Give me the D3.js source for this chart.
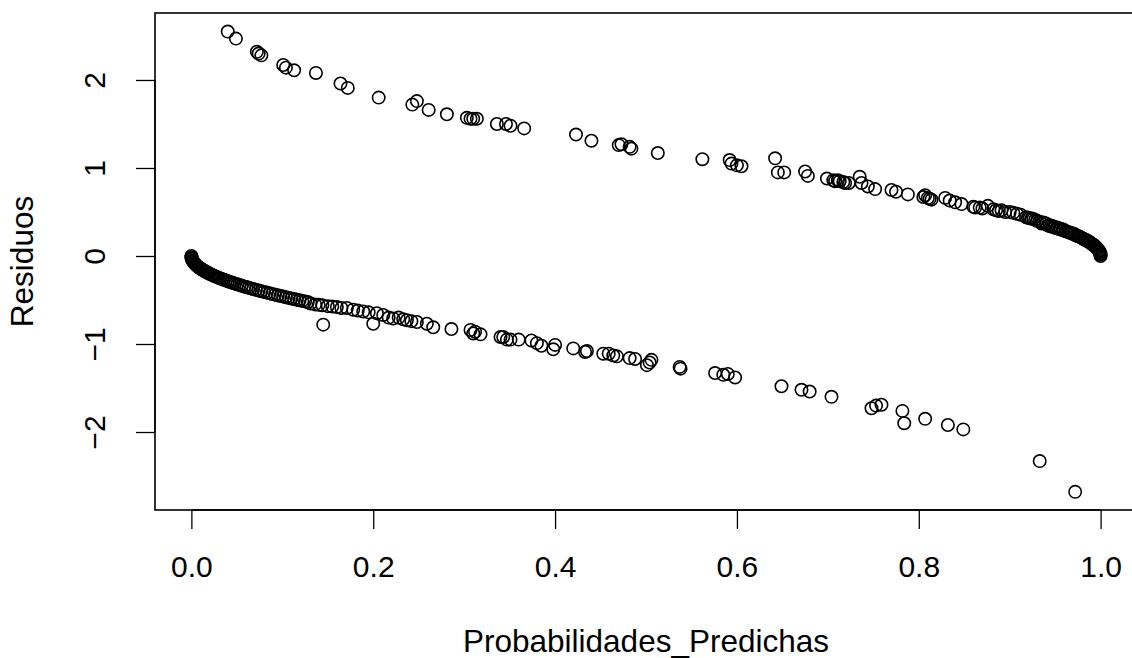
<!DOCTYPE html>
<html>
<head>
<meta charset="utf-8">
<script src="https://cdn.jsdelivr.net/npm/d3@7"></script>
<style>
  html, body { margin: 0; padding: 0; background: #fff; }
  svg { display: block; }
  text { font-family: "Liberation Sans", Arial, Helvetica, sans-serif; fill: #000; }
</style>
</head>
<body>
<svg id="chart" width="1132" height="658"></svg>
<script>
// ---- Data ----
const posProb = [
  0.040, 0.049, 0.072, 0.074, 0.077, 0.101, 0.104, 0.113, 0.137, 0.164,
  0.172, 0.206, 0.243, 0.248, 0.261, 0.281, 0.303, 0.307, 0.310, 0.314,
  0.336, 0.346, 0.351, 0.366, 0.423, 0.440, 0.470, 0.473, 0.482, 0.484,
  0.513, 0.562, 0.592, 0.594, 0.600, 0.605, 0.642, 0.645, 0.652, 0.675,
  0.678, 0.699, 0.706, 0.708, 0.711, 0.713, 0.717, 0.719, 0.723, 0.735,
  0.737, 0.744, 0.752, 0.770, 0.775, 0.788, 0.805, 0.807, 0.810, 0.812,
  0.814, 0.829, 0.834, 0.840, 0.847, 0.860, 0.862, 0.867, 0.870, 0.876,
  0.882, 0.885, 0.888, 0.891, 0.895, 0.900, 0.904, 0.908, 0.912, 0.918,
  0.922, 0.926, 0.930, 0.933, 0.937, 0.940, 0.944, 0.947, 0.950, 0.953,
  0.956, 0.959, 0.962, 0.965, 0.968, 0.971, 0.974, 0.977, 0.980, 0.982,
  0.984, 0.986, 0.988, 0.990, 0.992, 0.993, 0.994, 0.995, 0.996, 0.997,
  0.998, 0.9985, 0.999, 0.9995, 0.9998, 0.9999, 1.000,
  0.991, 0.989, 0.987, 0.985, 0.983, 0.981, 0.9785, 0.9755, 0.9725, 0.9695,
  0.966, 0.9625, 0.9585, 0.9545, 0.9515, 0.9485, 0.9455, 0.942, 0.935, 0.928,
  0.924, 0.920
];
const posResid = [
  2.55, 2.47, 2.32, 2.30, 2.28, 2.17, 2.14, 2.11, 2.08, 1.96,
  1.91, 1.80, 1.72, 1.76, 1.66, 1.61, 1.57, 1.56, 1.56, 1.56,
  1.50, 1.50, 1.48, 1.45, 1.38, 1.31, 1.26, 1.27, 1.24, 1.22,
  1.17, 1.10, 1.09, 1.05, 1.03, 1.02, 1.11, 0.95, 0.95, 0.96,
  0.91, 0.88, 0.86, 0.85, 0.86, 0.85, 0.84, 0.83, 0.83, 0.90,
  0.83, 0.79, 0.76, 0.75, 0.73, 0.70, 0.67, 0.69, 0.66, 0.65,
  0.64, 0.66, 0.63, 0.61, 0.59, 0.56, 0.55, 0.55, 0.54, 0.57,
  0.53, 0.52, 0.51, 0.52, 0.50, 0.50, 0.49, 0.48, 0.47, 0.44,
  0.43, 0.42, 0.40, 0.39, 0.38, 0.37, 0.35, 0.34, 0.33, 0.32,
  0.31, 0.30, 0.28, 0.27, 0.26, 0.25, 0.23, 0.22, 0.20, 0.19,
  0.18, 0.17, 0.155, 0.14, 0.127, 0.118, 0.11, 0.10, 0.089, 0.077,
  0.063, 0.055, 0.045, 0.032, 0.020, 0.014, 0.000,
  0.134, 0.149, 0.162, 0.174, 0.185, 0.196, 0.209, 0.223, 0.236, 0.249,
  0.263, 0.277, 0.291, 0.305, 0.315, 0.325, 0.335, 0.345, 0.370, 0.410,
  0.425, 0.435
];
const negProb = [
  0.0001, 0.0002, 0.0005, 0.001, 0.0015, 0.002, 0.003, 0.004, 0.005, 0.006,
  0.007, 0.008, 0.010, 0.012, 0.014, 0.016, 0.018, 0.020, 0.023, 0.026,
  0.029, 0.032, 0.036, 0.040, 0.044, 0.048, 0.053, 0.058, 0.063, 0.068,
  0.074, 0.080, 0.086, 0.092, 0.098, 0.104, 0.110, 0.116, 0.122, 0.128,
  0.131, 0.136, 0.140, 0.144, 0.145, 0.150, 0.155, 0.160, 0.165, 0.171,
  0.178, 0.183, 0.189, 0.195, 0.200, 0.204, 0.211, 0.217, 0.222, 0.228,
  0.233, 0.237, 0.242, 0.248, 0.259, 0.266, 0.286, 0.307, 0.310, 0.312,
  0.318, 0.340, 0.343, 0.347, 0.351, 0.360, 0.374, 0.380, 0.385, 0.398,
  0.400, 0.420, 0.433, 0.435, 0.453, 0.459, 0.464, 0.468, 0.482, 0.488,
  0.501, 0.504, 0.506, 0.537, 0.538, 0.576, 0.585, 0.590, 0.598, 0.649,
  0.671, 0.680, 0.704, 0.748, 0.753, 0.759, 0.782, 0.784, 0.807, 0.832,
  0.849, 0.933, 0.972,
  0.000, 0.009, 0.011, 0.013, 0.015, 0.017, 0.019, 0.0215, 0.0245, 0.0275,
  0.0305, 0.034, 0.038, 0.042, 0.046, 0.0505, 0.0555, 0.0605, 0.0655, 0.071,
  0.077, 0.083, 0.089, 0.095, 0.101, 0.107, 0.113, 0.119, 0.125
];
const negResid = [
  -0.014, -0.020, -0.032, -0.045, -0.055, -0.063, -0.077, -0.089, -0.100, -0.110,
  -0.118, -0.127, -0.142, -0.155, -0.168, -0.180, -0.191, -0.201, -0.216, -0.230,
  -0.243, -0.255, -0.271, -0.286, -0.300, -0.314, -0.330, -0.346, -0.361, -0.375,
  -0.392, -0.408, -0.424, -0.439, -0.454, -0.469, -0.483, -0.497, -0.510, -0.523,
  -0.54, -0.55, -0.555, -0.56, -0.78, -0.57, -0.575, -0.58, -0.59, -0.59,
  -0.61, -0.62, -0.63, -0.64, -0.77, -0.65, -0.67, -0.70, -0.71, -0.70,
  -0.72, -0.73, -0.74, -0.75, -0.77, -0.81, -0.83, -0.84, -0.88, -0.86,
  -0.89, -0.92, -0.92, -0.95, -0.95, -0.95, -0.96, -0.99, -1.02, -1.06,
  -1.01, -1.05, -1.09, -1.08, -1.11, -1.11, -1.13, -1.14, -1.16, -1.17,
  -1.24, -1.21, -1.18, -1.26, -1.28, -1.33, -1.35, -1.34, -1.38, -1.48,
  -1.52, -1.54, -1.60, -1.73, -1.70, -1.69, -1.76, -1.90, -1.85, -1.92,
  -1.97, -2.33, -2.68,
  0.000, -0.135, -0.149, -0.162, -0.174, -0.186, -0.196, -0.209, -0.223, -0.237,
  -0.249, -0.263, -0.279, -0.293, -0.307, -0.322, -0.338, -0.353, -0.368, -0.384,
  -0.400, -0.416, -0.431, -0.446, -0.461, -0.476, -0.490, -0.503, -0.516
];
const xTicks = [0.0, 0.2, 0.4, 0.6, 0.8, 1.0];
const yTicks = [-2, -1, 0, 1, 2];
const xTitle = "Probabilidades_Predichas";
const yTitle = "Residuos";

// ---- Layout ----
const W = 1132, H = 658;
const plot = { left: 155, right: 1137, top: 13, bottom: 510 };
const tickFont = 30;
const titleFont = 31.5;

const points = [];
posProb.forEach((p, i) => points.push({ x: p, y: posResid[i] }));
negProb.forEach((p, i) => points.push({ x: p, y: negResid[i] }));

const x = d3.scaleLinear().domain([-0.04, 1.04]).range([plot.left, plot.right]);
const y = d3.scaleLinear().domain([-2.886, 2.761]).range([plot.bottom, plot.top]);

const svg = d3.select("#chart");
svg.append("rect").attr("width", W).attr("height", H).attr("fill", "#fff");

// points
svg.append("g")
  .selectAll("circle")
  .data(points)
  .join("circle")
  .attr("cx", d => x(d.x))
  .attr("cy", d => y(d.y))
  .attr("r", 6.2)
  .attr("fill", "none")
  .attr("stroke", "#000")
  .attr("stroke-width", 1.6);

// box
svg.append("rect")
  .attr("x", plot.left).attr("y", plot.top)
  .attr("width", plot.right - plot.left)
  .attr("height", plot.bottom - plot.top)
  .attr("fill", "none").attr("stroke", "#000").attr("stroke-width", 1.6);

// x axis
const xAxis = d3.axisBottom(x).tickValues(xTicks).tickSize(19).tickFormat(d3.format(".1f"));
const gx = svg.append("g").attr("transform", `translate(0,${plot.bottom})`).call(xAxis);
gx.select(".domain").attr("stroke", "#000").attr("stroke-width", 1.3)
  .attr("d", `M${x(xTicks[0])},0H${x(xTicks[xTicks.length - 1])}`);
gx.selectAll(".tick line").attr("stroke", "#000").attr("stroke-width", 1.3);
gx.selectAll(".tick text")
  .attr("y", 67).attr("dy", null)
  .style("font-size", tickFont + "px")
  .style("font-family", '"Liberation Sans", Arial, sans-serif')
  .attr("fill", "#000");

// y axis
const yAxis = d3.axisLeft(y).tickValues(yTicks).tickSize(19).tickFormat(d3.format("d"));
const gy = svg.append("g").attr("transform", `translate(${plot.left},0)`).call(yAxis);
gy.select(".domain").attr("stroke", "#000").attr("stroke-width", 1.3)
  .attr("d", `M0,${y(yTicks[0])}V${y(yTicks[yTicks.length - 1])}`);
gy.selectAll(".tick line").attr("stroke", "#000").attr("stroke-width", 1.3);
gy.selectAll(".tick text")
  .attr("x", null).attr("dy", null)
  .attr("transform", "translate(-50,0) rotate(-90)")
  .attr("text-anchor", "middle")
  .style("font-size", tickFont + "px")
  .style("font-family", '"Liberation Sans", Arial, sans-serif')
  .attr("fill", "#000");

// titles
svg.append("text")
  .attr("x", (plot.left + plot.right) / 2)
  .attr("y", 652)
  .attr("text-anchor", "middle")
  .style("font-size", titleFont + "px")
  .text(xTitle);

svg.append("text")
  .attr("transform", `translate(33,${(plot.top + plot.bottom) / 2}) rotate(-90)`)
  .attr("text-anchor", "middle")
  .style("font-size", titleFont + "px")
  .text(yTitle);
</script>
</body>
</html>
